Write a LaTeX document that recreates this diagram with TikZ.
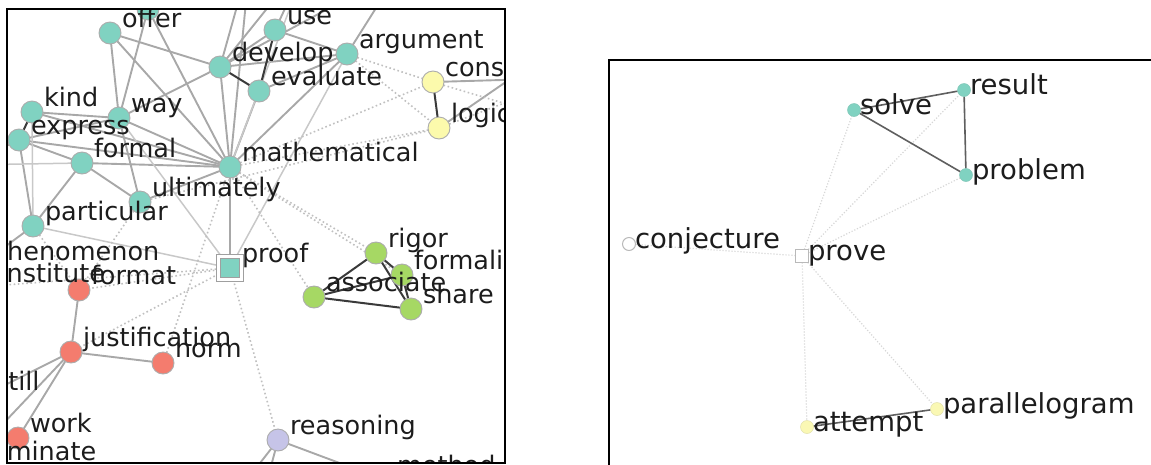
\documentclass[tikz,border=0pt]{standalone}
\usepackage{fontspec}
\setmainfont{DejaVu Sans}
\pgfdeclarelayer{edges}
\pgfsetlayers{edges,main}
\definecolor{cTeal}{RGB}{128,210,193}
\definecolor{cYel}{RGB}{252,250,172}
\definecolor{cGrn}{RGB}{166,216,100}
\definecolor{cRed}{RGB}{244,124,110}
\definecolor{cPur}{RGB}{198,196,232}
\definecolor{cYel2}{RGB}{250,248,180}
\definecolor{txt}{RGB}{28,28,28}
\definecolor{edgeL}{RGB}{168,168,168}
\definecolor{edgeLL}{RGB}{200,200,200}
\definecolor{edgeD}{RGB}{58,58,58}
\definecolor{edgeW}{RGB}{192,192,192}
\definecolor{rEdge}{RGB}{95,95,95}
\definecolor{rFaint}{RGB}{215,215,215}
\begin{document}
\begin{tikzpicture}[x=1pt,y=-1pt,
  every node/.style={inner sep=0pt,outer sep=0pt},
  vtx/.style={circle,minimum size=22pt,draw=gray!65,line width=0.9pt},
  tq/.style={vtx,fill=cTeal},
  yl/.style={vtx,fill=cYel},
  gr/.style={vtx,fill=cGrn},
  rd/.style={vtx,fill=cRed},
  pu/.style={vtx,fill=cPur},
  sq/.style={rectangle,minimum size=23pt,fill=cTeal,draw=gray!75,line width=0.9pt,double=white,double distance=2.6pt},
  lab/.style={anchor=base west,font=\fontsize{25.5}{30}\selectfont,text=txt},
  rlab/.style={anchor=base west,font=\fontsize{27.5}{32}\selectfont,text=txt},
  ln/.style={draw=edgeL,line width=1.9pt},
  lnl/.style={draw=edgeLL,line width=1.5pt},
  strong/.style={draw=edgeD,line width=2pt},
  weak/.style={draw=edgeW,line width=1.6pt,dash pattern=on 1.6pt off 2.6pt},
  sv/.style={circle,minimum size=13pt,fill=cTeal,draw=cTeal!85!gray,line width=0.5pt},
  sy/.style={circle,minimum size=13pt,fill=cYel2,draw=cYel2!80!gray,line width=0.5pt},
  so/.style={circle,minimum size=13pt,fill=white,draw=gray!55,line width=1pt},
  ssq/.style={rectangle,minimum size=13pt,fill=white,draw=gray!55,line width=1.4pt},
  rdark/.style={draw=rEdge,line width=1.6pt},
  rfaint/.style={draw=rFaint,line width=1.2pt,dash pattern=on 1.2pt off 1.8pt}]
\useasboundingbox (0,0) rectangle (1151,464);

% ---------------- left network ----------------
\begin{scope}
  \clip (7,9) rectangle (505,463);
  \foreach \n/\x/\y/\s in {
    top1/148/9/tq, top2/250/-40/tq, top3/310/-45/tq, top4/400/-30/tq,
    offer/110/33/tq, use/275/30/tq, develop/220/67/tq, argument/347/54/tq,
    evaluate/259/91/tq, kind/32/112/tq, way/119/118/tq, express/19/140/tq,
    formal/82/163/tq, mathematical/230/167/tq, ultimately/140/202/tq,
    particular/33/226/tq, L1/-35/165/tq, phenomenon/-21/266/tq,
    constitute/-35/288/rd, format/79/290/rd, justification/71/352/rd,
    norm/163/363/rd, still/-17/396/rd, work/18/438/rd, dominate/-37/466/rd,
    reasoning/278/440/pu, method/385/480/pu, low1/200/540/pu, low2/250/545/pu,
    cons/433/82/yl, logic/439/128/yl, right1/570/78/yl, right2/545/55/yl,
    right3/560/120/yl,
    rigor/376/253/gr, formalism/402/275/gr, associate/314/297/gr, share/411/309/gr}
    \node[\s] (\n) at (\x,\y) {};
  \node[sq] (proof) at (230,268) {};

  \begin{pgfonlayer}{edges}
  \begin{scope}
    \clip (7,9) rectangle (505,463);
    % light solid links
    \foreach \a/\b in {offer/develop, offer/way, offer/mathematical, top1/way,
      top1/mathematical, top2/mathematical, top2/develop, top3/develop,
      top3/use, top4/argument, top4/develop, develop/use, develop/argument,
      develop/way, develop/mathematical, use/argument, argument/evaluate,
      argument/mathematical, evaluate/mathematical, kind/way, kind/mathematical,
      express/way, express/formal, express/particular, express/mathematical,
      express/L1, formal/particular, formal/ultimately, formal/mathematical,
      way/mathematical, way/ultimately, ultimately/mathematical,
      particular/phenomenon, mathematical/proof, format/justification,
      justification/norm, justification/still, justification/work,
      justification/dominate, reasoning/low1, reasoning/low2,
      reasoning/method, cons/right1, logic/right2}
      \draw[ln] (\a) -- (\b);
    \foreach \a/\b in {kind/particular, formal/L1, top3/mathematical,
      way/proof, particular/proof, argument/proof}
      \draw[lnl] (\a) -- (\b);
    % dotted weak links
    \foreach \a/\b in {argument/cons, argument/logic, mathematical/cons,
      mathematical/logic, mathematical/rigor, mathematical/formalism,
      mathematical/associate, proof/format, proof/justification,
      proof/reasoning, ultimately/format, norm/mathematical, cons/right3,
      logic/right1, constitute/proof, particular/format, ultimately/logic}
      \draw[weak] (\a) -- (\b);
    % strong links
    \foreach \a/\b in {use/evaluate, develop/evaluate, kind/express,
      cons/logic, rigor/associate, rigor/formalism, rigor/share,
      associate/formalism, associate/share, formalism/share}
      \draw[strong] (\a) -- (\b);
  \end{scope}
  \end{pgfonlayer}

  \foreach \n/\t in {offer/offer, use/use, develop/develop,
    argument/argument, evaluate/evaluate, kind/kind, way/way,
    express/express, formal/formal, mathematical/mathematical,
    ultimately/ultimately, particular/particular, proof/proof,
    phenomenon/phenomenon, constitute/constitute, format/format,
    justification/justification, norm/norm, still/still, work/work,
    dominate/dominate, reasoning/reasoning, method/method,
    cons/consistent, logic/logic, rigor/rigor, formalism/formalism,
    associate/associate, share/share}
    \node[lab] (\n-l) at ([shift={(12,-6)}]\n.center) {\t};
\end{scope}
\draw[line width=2.6pt] (7,9) rectangle (505,463);

% ---------------- right network ----------------
\begin{scope}
  \clip (609,60) rectangle (1151,464);
  \node[sv] (solve) at (854,110) {};
  \node[sv] (result) at (964,90) {};
  \node[sv] (problem) at (966,175) {};
  \node[so] (conjecture) at (629,244) {};
  \node[ssq] (prove) at (802,256) {};
  \node[sy] (attempt) at (807,427) {};
  \node[sy] (parallelogram) at (937,409) {};
  \begin{pgfonlayer}{edges}
  \begin{scope}
    \foreach \b in {conjecture, solve, result, problem, attempt, parallelogram}
      \draw[rfaint] (prove) -- (\b);
    \draw[rdark] (solve) -- (result);
    \draw[rdark] (solve) -- (problem);
    \draw[rdark] (result) -- (problem);
    \draw[rdark] (attempt) -- (parallelogram);
  \end{scope}
  \end{pgfonlayer}
  \foreach \n in {solve, result, problem, conjecture, prove, attempt, parallelogram}
    \node[rlab] (\n-l) at ([shift={(6,4)}]\n.center) {\n};
\end{scope}
\draw[line width=2.6pt] (1160,60) -- (609,60) -- (609,470);
\end{tikzpicture}
\end{document}
